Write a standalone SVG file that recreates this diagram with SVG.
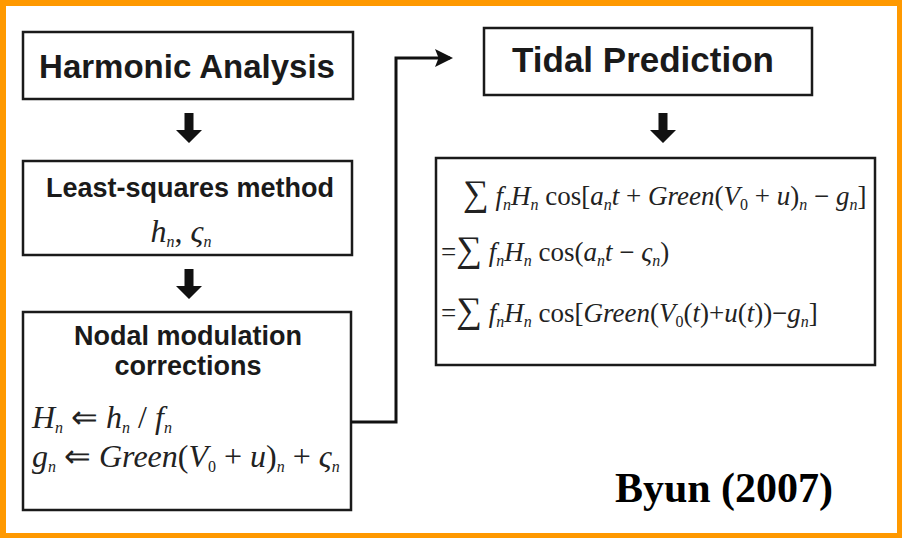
<svg xmlns="http://www.w3.org/2000/svg" width="902" height="538" viewBox="0 0 902 538">
<style>
.box{fill:#fff;stroke:#1a1a1a;stroke-width:2.5}
.t{font-family:"Liberation Sans",Arial,sans-serif;font-weight:bold;fill:#1a1a1a;text-anchor:middle}
.m{font-family:"Liberation Serif","Times New Roman",serif;font-style:italic;fill:#222}
.up{font-style:normal}
.s{font-size:16px}
.sig{font-style:normal;font-size:36px}
.conn{fill:none;stroke:#111;stroke-width:3}
.blk{fill:#111}
</style>
<defs>
<marker id="ah" markerWidth="6" markerHeight="6" refX="5" refY="3" orient="auto" markerUnits="strokeWidth">
<path d="M0,0 L6,3 L0,6 L1.2,3 Z" fill="#111"/>
</marker>
<path id="blockarrow" d="M-4.5,-15 L4.5,-15 L4.5,2 L13,2 L0,15 L-13,2 L-4.5,2 Z"/>
</defs>
<rect x="0" y="0" width="902" height="538" fill="#FF9900"/>
<rect x="6" y="6" width="891" height="527" fill="#fff"/>

<g id="harmonic">
<rect class="box" x="23" y="32" width="330" height="67"/>
<text class="t" x="187" y="78" font-size="33">Harmonic Analysis</text>
</g>
<g id="leastsq">
<rect class="box" x="23" y="161" width="329" height="94"/>
<text class="t" x="190" y="197" font-size="27">Least-squares method</text>
<text class="m" x="181" y="242" font-size="32" text-anchor="middle">h<tspan class="s" dy="5">n</tspan><tspan class="up" dy="-5">,  </tspan>ς<tspan class="s" dy="5">n</tspan></text>
</g>
<g id="nodal">
<rect class="box" x="23" y="312" width="328" height="198"/>
<text class="t" x="188" y="345" font-size="27">Nodal modulation</text>
<text class="t" x="188" y="375" font-size="27">corrections</text>
<text class="m" x="32" y="428" font-size="32">H<tspan class="s" dy="5">n</tspan><tspan class="up" dy="-5"> ⇐ </tspan>h<tspan class="s" dy="5">n</tspan><tspan class="up" dy="-5"> / </tspan>f<tspan class="s" dy="5">n</tspan></text>
<text class="m" x="32" y="467" font-size="32">g<tspan class="s" dy="5">n</tspan><tspan class="up" dy="-5"> ⇐ </tspan>Green<tspan class="up">(</tspan>V<tspan class="s up" dy="5">0</tspan><tspan class="up" dy="-5"> + </tspan>u<tspan class="up">)</tspan><tspan class="s" dy="5">n</tspan><tspan class="up" dy="-5"> + </tspan>ς<tspan class="s" dy="5">n</tspan></text>
</g>
<g id="tidal">
<rect class="box" x="484" y="28" width="328" height="67"/>
<text class="t" x="643" y="72" font-size="35">Tidal Prediction</text>
</g>
<g id="formula">
<rect class="box" x="436" y="158" width="439" height="207"/>
<text class="m" x="463" y="205" font-size="27"><tspan class="sig">∑</tspan> f<tspan class="s" dy="5">n</tspan><tspan dy="-5">H</tspan><tspan class="s" dy="5">n</tspan><tspan class="up" dy="-5"> cos[</tspan>a<tspan class="s" dy="5">n</tspan><tspan dy="-5">t</tspan><tspan class="up"> + </tspan>Green<tspan class="up">(</tspan>V<tspan class="s up" dy="5">0</tspan><tspan class="up" dy="-5"> + </tspan>u<tspan class="up">)</tspan><tspan class="s" dy="5">n</tspan><tspan class="up" dy="-5"> − </tspan>g<tspan class="s" dy="5">n</tspan><tspan class="up" dy="-5">]</tspan></text>
<text class="m" x="441" y="261" font-size="27"><tspan class="up">=</tspan><tspan class="sig">∑</tspan> f<tspan class="s" dy="5">n</tspan><tspan dy="-5">H</tspan><tspan class="s" dy="5">n</tspan><tspan class="up" dy="-5"> cos(</tspan>a<tspan class="s" dy="5">n</tspan><tspan dy="-5">t</tspan><tspan class="up"> − </tspan>ς<tspan class="s" dy="5">n</tspan><tspan class="up" dy="-5">)</tspan></text>
<text class="m" x="441" y="322" font-size="27"><tspan class="up">=</tspan><tspan class="sig">∑</tspan> f<tspan class="s" dy="5">n</tspan><tspan dy="-5">H</tspan><tspan class="s" dy="5">n</tspan><tspan class="up" dy="-5"> cos[</tspan>Green<tspan class="up">(</tspan>V<tspan class="s up" dy="5">0</tspan><tspan class="up" dy="-5">(</tspan>t<tspan class="up">)+</tspan>u<tspan class="up">(</tspan>t<tspan class="up">))−</tspan>g<tspan class="s" dy="5">n</tspan><tspan class="up" dy="-5">]</tspan></text>
</g>
<g id="connectors">
<use href="#blockarrow" class="blk" x="189" y="128"/>
<use href="#blockarrow" class="blk" x="189" y="284"/>
<use href="#blockarrow" class="blk" x="663" y="128"/>
<path class="conn" d="M351,422 H396 V58 H450" marker-end="url(#ah)"/>
</g>
<text x="724" y="502" font-family="'Liberation Serif','Times New Roman',serif" font-weight="bold" font-size="42" text-anchor="middle" fill="#000">Byun (2007)</text>
</svg>
